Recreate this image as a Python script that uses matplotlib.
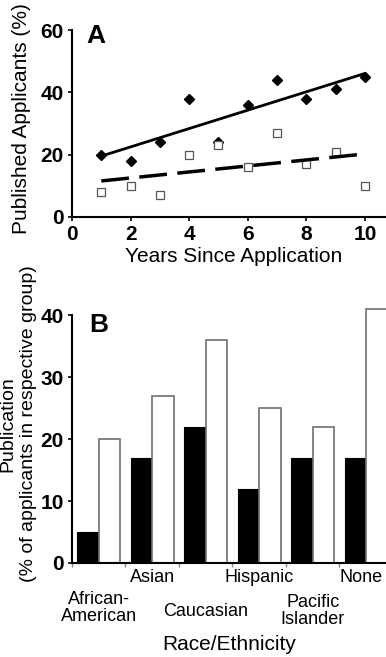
import numpy as np
import matplotlib
matplotlib.use('Agg')
import matplotlib.pyplot as plt
import matplotlib.transforms as mtransforms

plt.rcParams['font.family'] = ['Liberation Sans', 'DejaVu Sans']

# panel A: share of applicants with publications by year since application
years = [1, 2, 3, 4, 5, 6, 7, 8, 9, 10]
group_filled = [20, 18, 24, 38, 24, 36, 44, 38, 41, 45]
group_open = [8, 10, 7, 20, 23, 16, 27, 17, 21, 10]

# panel B: publication by race/ethnicity
races = ['African-\nAmerican', 'Asian', 'Caucasian', 'Hispanic', 'Pacific\nIslander', 'None']
race_black = [5, 17, 22, 12, 17, 17]
race_white = [20, 27, 36, 25, 22, 41]

W, H = 386, 657
fig = plt.figure(figsize=(W / 100, H / 100), dpi=100)


def fx(px):
    return px / W


def fy(py):
    return 1 - py / H


# ---------- panel A ----------
axA = fig.add_axes([fx(72), fy(217), fx(386 - 72), (217 - 30) / H])
axA.plot(years, group_filled, 'D', color='black', markersize=5, clip_on=False)
axA.plot(years, group_open, 's', markerfacecolor='white', markeredgecolor='#555555',
         markeredgewidth=0.9, markersize=6, clip_on=False)

# least-squares trend lines
xs = np.array(years, dtype=float)
p1 = np.polyfit(xs, group_filled, 1)
p2 = np.polyfit(xs, group_open, 1)
axA.plot(xs, np.polyval(p1, xs), color='black', lw=2)
axA.plot(xs, np.polyval(p2, xs), color='black', lw=2.5, dashes=(8, 3))

axA.set_xlim(0, 10.72)
axA.set_ylim(0, 60)
axA.set_xticks([0, 2, 4, 6, 8, 10])
axA.set_yticks([0, 20, 40, 60])
for s in ['top', 'right']:
    axA.spines[s].set_visible(False)
for s in ['left', 'bottom']:
    axA.spines[s].set_linewidth(1.5)
axA.tick_params(length=3, width=1.2, pad=3, labelsize=15)
for lab in axA.get_xticklabels() + axA.get_yticklabels():
    lab.set_fontweight('bold')
fig.text(fx(86), fy(36), 'A', fontsize=19, fontweight='bold', va='center', ha='left')
fig.text(fx(234), fy(257), 'Years Since Application', fontsize=15, ha='center', va='center')
fig.text(fx(22), fy(119), 'Published Applicants (%)', fontsize=15, ha='center',
         va='center', rotation=90)

# ---------- panel B ----------
axB = fig.add_axes([fx(72), fy(563), fx(386 - 72), (563 - 303) / H])
idx = np.arange(len(races))
axB.bar(idx + 0.3, race_black, width=0.4, color='black', edgecolor='black', lw=0.8)
axB.bar(idx + 0.7, race_white, width=0.4, color='white', edgecolor='#707070', lw=1.2)
axB.set_xlim(0, 5.87)
axB.set_ylim(0, 42)
axB.spines['left'].set_bounds(0, 40)
for s in ['top', 'right']:
    axB.spines[s].set_visible(False)
for s in ['left', 'bottom']:
    axB.spines[s].set_linewidth(1.5)
axB.set_yticks([0, 10, 20, 30, 40])
axB.set_xticks(np.arange(0, 6))
axB.set_xticklabels([])
axB.tick_params(axis='y', length=3, width=1.2, pad=3, labelsize=15)
axB.tick_params(axis='x', length=3, width=1, color='#888888')
for lab in axB.get_yticklabels():
    lab.set_fontweight('bold')

trans = mtransforms.blended_transform_factory(axB.transData, fig.transFigure)
label_y = [608, 577, 612, 577, 611, 577]
label_dx = [0, 0, 0, 0, 0, -0.1]
for i, (name, py) in enumerate(zip(races, label_y)):
    axB.text(i + 0.5 + label_dx[i], fy(py), name, transform=trans, ha='center',
             va='center', fontsize=13, linespacing=1.05)

fig.text(fx(89), fy(325), 'B', fontsize=19, fontweight='bold', va='center', ha='left')
fig.text(fx(229), fy(645), 'Race/Ethnicity', fontsize=15, ha='center', va='center')
fig.text(fx(18), fy(424), 'Publication\n(% of applicants in respective group)', fontsize=14,
         ha='center', va='center', rotation=90, multialignment='center', linespacing=1.25)

fig.savefig('out.png', dpi=100)
